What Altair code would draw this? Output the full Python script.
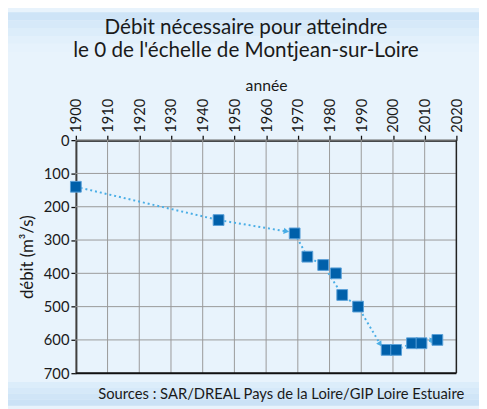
import altair as alt
import pandas as pd

# ---- data ----
years = [1900, 1945, 1969, 1973, 1978, 1982, 1984, 1989, 1998, 2001, 2006, 2009, 2014]
debit = [140, 240, 280, 350, 375, 400, 465, 500, 630, 630, 610, 610, 600]

# dotted trend segments (drawn with arrowheads at their ends)
trend_seg = ["A", "A", "A", "B", "B", "B", "B", "B", "B", "C", "C", "C", "C"]
trend_year = [1900, 1945, 1966.4, 1969, 1973, 1978, 1984, 1989, 1996.0, 2001, 2006, 2009, 2012.5]
trend_debit = [140, 240, 274, 280, 350, 375, 465, 500, 613, 630, 610, 610, 600]

arrow_year = [1966.4, 1996.0, 2012.5]
arrow_debit = [274, 613, 600]
arrow_angle = [10, 55, 345]

x_ticks = list(range(1900, 2021, 10))
y_ticks = list(range(0, 701, 100))

title_lines = ["Débit nécessaire pour atteindre", "le 0 de l'échelle de Montjean-sur-Loire"]
source_text = "Sources : SAR/DREAL Pays de la Loire/GIP Loire Estuaire"

FONT = "Lato"
W, H = 387, 237
PL, PT, PR, PB = 69, 131, 23, 33

pts = pd.DataFrame({"annee": years, "debit": debit})
trend = pd.DataFrame({"seg": trend_seg, "annee": trend_year, "debit": trend_debit})
arrows = pd.DataFrame({"annee": arrow_year, "debit": arrow_debit, "angle": arrow_angle})
grid_x = pd.DataFrame({"gyear": x_ticks})
grid_y = pd.DataFrame({"gdeb": y_ticks})
one = pd.DataFrame({"k": [0]})

xscale = alt.Scale(domain=[1900, 2020], nice=False, zero=False)
yscale = alt.Scale(domain=[0, 700], reverse=True, nice=False)

xaxis = alt.Axis(
    orient="top", title="année", values=x_ticks, format="d",
    labelAngle=270, labelAlign="left", labelBaseline="middle",
    labelFontSize=15, labelFont=FONT, labelColor="#1a1a1a", labelPadding=3,
    labelOverlap=False, labelFlush=False,
    titleFont=FONT, titleFontSize=16, titleFontWeight="normal", titleColor="#1a1a1a",
    titlePadding=5, tickSize=5, tickColor="#111", domainColor="#111",
    domainWidth=2, tickWidth=1.3, grid=False,
)
yaxis = alt.Axis(
    title="débit (m³/s)", values=y_ticks,
    labelFontSize=15, labelFont=FONT, labelColor="#1a1a1a", labelPadding=2,
    labelOverlap=False, labelFlush=False,
    titleFont=FONT, titleFontSize=17, titleFontWeight="normal", titleColor="#1a1a1a",
    titlePadding=7, tickSize=5, tickColor="#111", domainColor="#111",
    domainWidth=2, tickWidth=1.3, grid=False,
)

X = alt.X("annee:Q", scale=xscale, axis=xaxis)
Y = alt.Y("debit:Q", scale=yscale, axis=yaxis)

# soft darker bands at the top and bottom of the card (solid stripes)
band_top = [alt.Chart(one).mark_rect(color=c).encode(
    x=alt.value(-PL), x2=alt.value(W + PR), y=alt.value(-PT + 1 + i * 8), y2=alt.value(-PT + 9 + i * 8))
    for i, c in enumerate(["#cee4f7", "#d6e9f9", "#dcedfa", "#e2f0fb", "#e6f2fc"])]
band_bot = [alt.Chart(one).mark_rect(color=c).encode(
    x=alt.value(-PL), x2=alt.value(W + PR), y=alt.value(H + 9 + i * 6), y2=alt.value(H + 15 + i * 6))
    for i, c in enumerate(["#dcedfa", "#d6e9f9", "#d0e5f7", "#cbe2f6"])]

gridx = alt.Chart(grid_x).mark_rule(color="#999999", strokeWidth=1).encode(
    x=alt.X("gyear:Q", scale=xscale, axis=xaxis)
)
gridy = alt.Chart(grid_y).mark_rule(color="#999999", strokeWidth=1).encode(
    y=alt.Y("gdeb:Q", scale=yscale, axis=yaxis)
)

line = alt.Chart(trend).mark_line(
    color="#4aaee6", strokeWidth=2, strokeDash=[2, 3]
).encode(x=X, y=Y, detail="seg:N")

arrowheads = alt.Chart(arrows).mark_point(
    shape="triangle-right", filled=True, color="#4aaee6", size=40, opacity=1
).encode(x=X, y=Y, angle=alt.Angle("angle:Q", scale=None))

points = alt.Chart(pts).mark_square(
    size=120, color="#0060aa", opacity=1, stroke="#5aa0d8", strokeWidth=1
).encode(x=X, y=Y)

bottom = alt.Chart(one).mark_rule(color="#111", strokeWidth=2).encode(
    x=alt.value(0), x2=alt.value(W), y=alt.value(H)
)
right = alt.Chart(one).mark_rule(color="#222", strokeWidth=1.5).encode(
    x=alt.value(W), y=alt.value(0), y2=alt.value(H)
)

title = alt.Chart(one).mark_text(
    font=FONT, fontSize=21, color="#1a1a1a", align="center", baseline="middle", lineHeight=23
).encode(x=alt.value(173), y=alt.value(-114), text=alt.value(title_lines))

source = alt.Chart(one).mark_text(
    font=FONT, fontSize=15, color="#1a1a1a", align="right", baseline="middle"
).encode(x=alt.value(W + 8), y=alt.value(H + 21), text=alt.value(source_text))

chart = alt.layer(*band_top, *band_bot, gridx, gridy, line, arrowheads, points, bottom, right,
                  title, source).properties(
    width=W, height=H,
    autosize=alt.AutoSizeParams(type="none"),
    padding={"left": PL, "top": PT, "right": PR, "bottom": PB},
    background="#e8f3fc",
).configure_view(strokeWidth=0)

chart.save("out.html", embed_options={"renderer": "svg", "actions": False})
